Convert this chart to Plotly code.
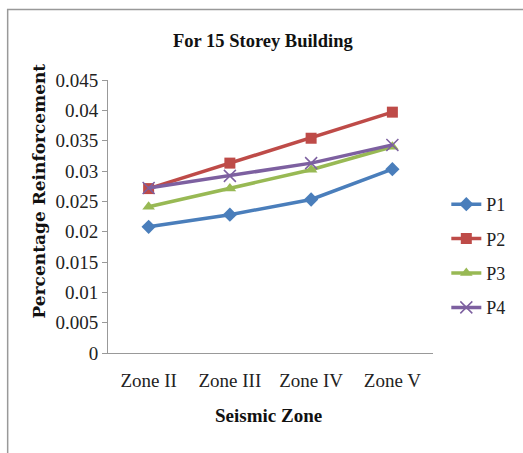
import plotly.graph_objects as go

zones = ["Zone II", "Zone III", "Zone IV", "Zone V"]
p1 = [0.0208, 0.0228, 0.0253, 0.0303]
p2 = [0.0271, 0.0313, 0.0354, 0.0397]
p3 = [0.0241, 0.0271, 0.0302, 0.0340]
p4 = [0.0272, 0.0292, 0.0313, 0.0343]
names = ["P1", "P2", "P3", "P4"]
colors = ["#4A7EBB", "#BE4B48", "#98B954", "#7D60A0"]
symbols = ["diamond", "square", "triangle-up", "x-thin"]
y_ticks = [0, 0.005, 0.01, 0.015, 0.02, 0.025, 0.03, 0.035, 0.04, 0.045]
y_labels = ["0", "0.005", "0.01", "0.015", "0.02", "0.025", "0.03", "0.035", "0.04", "0.045"]

serif = "Liberation Serif, Times New Roman, serif"
fig = go.Figure()
for i, (n, vals) in enumerate(zip(names, [p1, p2, p3, p4])):
    mk = dict(symbol=symbols[i], size=11, color=colors[i])
    if symbols[i] == "x-thin":
        mk.update(size=12, line=dict(width=1.5, color=colors[i]))
    fig.add_trace(go.Scatter(
        x=zones, y=vals, name=n, mode="lines+markers",
        line=dict(color=colors[i], width=3.5),
        marker=mk, legendgroup=n,
    ))

L, R, T, B = 108, 523 - 83, 80, 453 - 100
W, H = R - L, B - T
def px(x): return (x - L) / W
def py(y): return (B - y) / H

fig.update_layout(
    width=523, height=453,
    margin=dict(l=L, r=523 - R, t=T, b=453 - B),
    paper_bgcolor="white", plot_bgcolor="white",
    font=dict(family=serif, size=18, color="#222"),
    showlegend=True,
    legend=dict(x=px(520), y=py(256), xanchor="right", yanchor="middle",
                font=dict(family=serif, size=18, color="#222"),
                itemwidth=30, tracegroupgap=8, bgcolor="rgba(0,0,0,0)"),
    xaxis=dict(showline=True, linecolor="#999", linewidth=1, ticks="",
               showgrid=False, tickfont=dict(size=19, family=serif, color="#222"),
               range=[-0.5, 3.5], ticklabelstandoff=10),
    yaxis=dict(range=[0, 0.045], tickvals=y_ticks, ticktext=y_labels,
               showline=True, linecolor="#999", linewidth=1, ticks="outside",
               ticklen=5, tickcolor="#999", showgrid=False,
               tickfont=dict(size=19, family=serif, color="#222")),
    annotations=[
        dict(text="<b>For 15 Storey Building</b>", x=px(266), y=py(41),
             xref="paper", yref="paper", xanchor="center", yanchor="middle",
             showarrow=False, font=dict(size=18.5, family=serif, color="#111")),
        dict(text="<b>Percentage Reinforcement</b>", x=px(38), y=py(191),
             xref="paper", yref="paper", xanchor="center", yanchor="middle",
             showarrow=False, textangle=-90,
             font=dict(size=17, family="DejaVu Serif, serif", color="#111")),
        dict(text="<b>Seismic Zone</b>", x=px(272), y=py(415),
             xref="paper", yref="paper", xanchor="center", yanchor="middle",
             showarrow=False, font=dict(size=19, family=serif, color="#111")),
    ],
)

fig.add_shape(type="rect", xref="paper", yref="paper",
              x0=px(5.5), x1=px(540), y0=py(470), y1=py(9.5),
              line=dict(color="#999", width=1.5), fillcolor="rgba(0,0,0,0)", layer="below")

fig.write_html("out.html")
